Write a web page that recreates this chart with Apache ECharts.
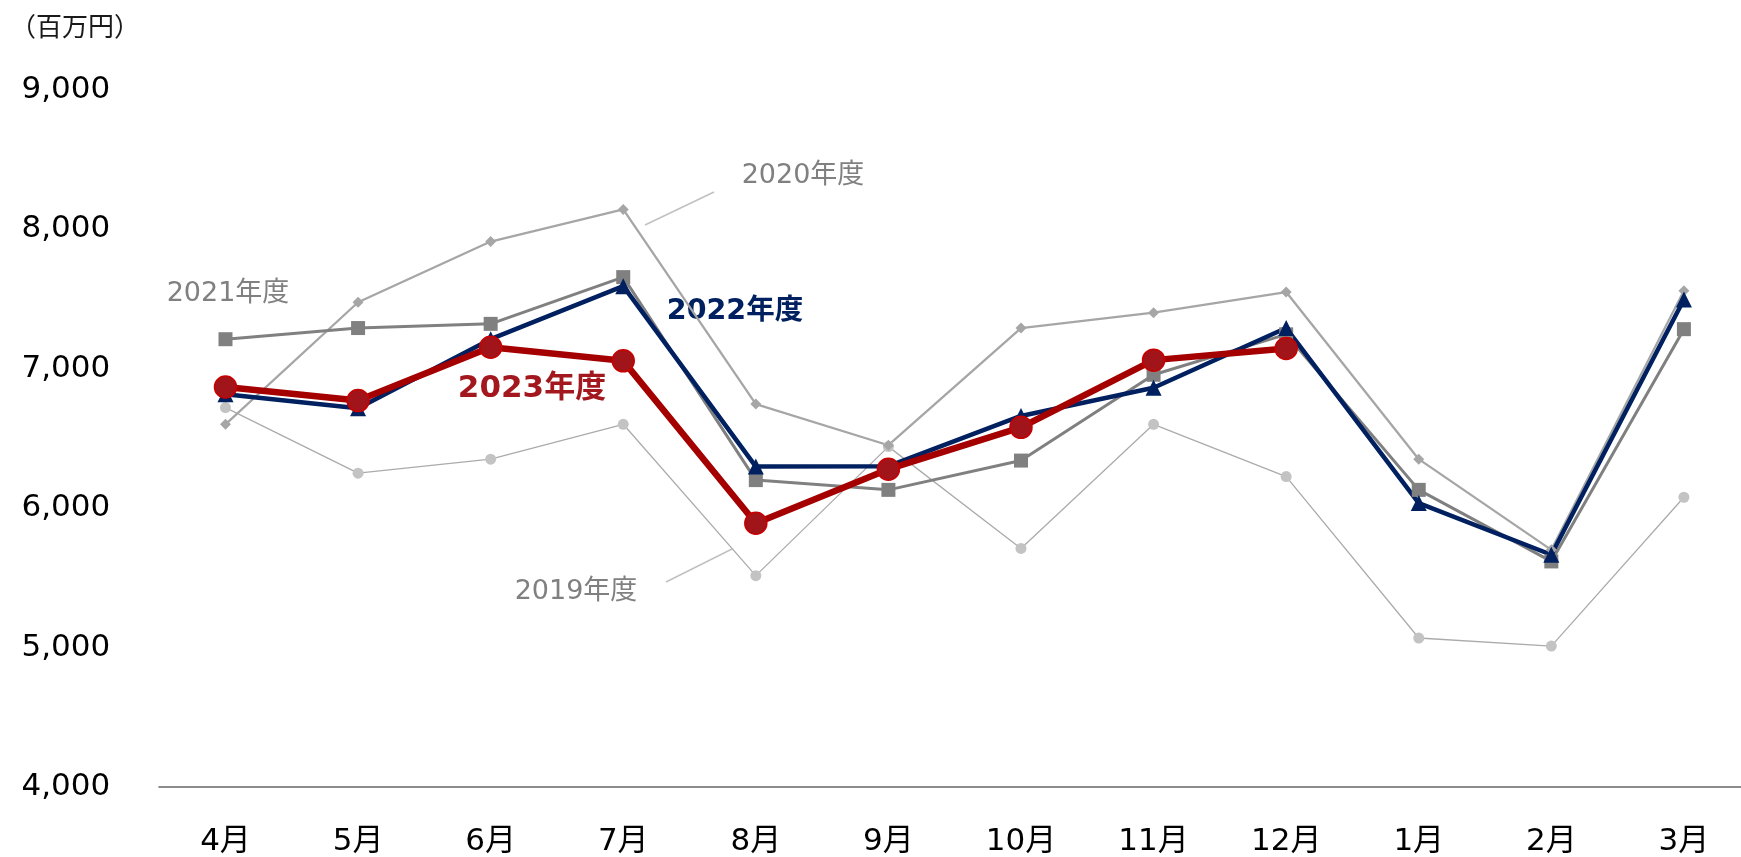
<!DOCTYPE html>
<html>
<head>
<meta charset="utf-8">
<script src="https://cdn.jsdelivr.net/npm/echarts@6/dist/echarts.min.js"></script>
<style>
html,body{margin:0;padding:0;background:#fff;overflow:hidden;width:1741px;height:857px;}
#chart{width:1780px;height:857px;}
</style>
</head>
<body>
<div id="chart"></div>
<script>
// ---- data ----
const months = ['4月','5月','6月','7月','8月','9月','10月','11月','12月','1月','2月','3月'];
const fy2019 = [6720, 6250, 6350, 6600, 5515, 6440, 5710, 6600, 6225, 5068, 5010, 6077];
const fy2020 = [6600, 7475, 7910, 8140, 6745, 6450, 7290, 7400, 7548, 6350, 5700, 7558];
const fy2021 = [7210, 7290, 7320, 7655, 6200, 6130, 6340, 6955, 7245, 6130, 5617, 7282];
const fy2022 = [6815, 6715, 7210, 7590, 6297, 6300, 6660, 6862, 7290, 6035, 5665, 7495];
const fy2023 = [6867, 6770, 7152, 7055, 5891, 6278, 6578, 7060, 7143, null, null, null];
const yMin = 4000, yMax = 9000, yStep = 1000;
const unitLabel = '（百万円）';
const seriesNames = ['2019年度','2020年度','2021年度','2022年度','2023年度'];

const latin = "'DejaVu Sans', 'Noto Sans CJK JP', sans-serif";
const cjk = "'Noto Sans CJK JP', 'DejaVu Sans', sans-serif";

const chart = echarts.init(document.getElementById('chart'), null, {renderer:'canvas'});
chart.setOption({
  animation: false,
  backgroundColor: '#ffffff',
  grid: { left: 159.2, top: 89.5, width: 1591, height: 698.2, containLabel: false },
  xAxis: {
    type: 'category',
    data: months,
    boundaryGap: true,
    axisLine: { show: true, lineStyle: { color: '#8c8c8c', width: 2 } },
    axisTick: { show: false },
    axisLabel: { fontSize: 31, color: '#000', fontFamily: latin, margin: 39 },
    splitLine: { show: false }
  },
  yAxis: {
    type: 'value',
    min: yMin, max: yMax, interval: yStep,
    axisLine: { show: false },
    axisTick: { show: false },
    splitLine: { show: false },
    axisLabel: {
      fontSize: 31, color: '#000', fontFamily: latin, margin: 49,
      padding: [0, 0, 9, 0],
      formatter: v => v.toLocaleString('en-US')
    }
  },
  series: [
    { name: seriesNames[0], type: 'line', data: fy2019, symbol: 'circle', symbolSize: 11,
      lineStyle: { color: '#ababab', width: 1.3 }, itemStyle: { color: '#c3c3c3' } },
    { name: seriesNames[1], type: 'line', data: fy2020, symbol: 'diamond', symbolSize: 11,
      lineStyle: { color: '#a6a6a6', width: 2.3 }, itemStyle: { color: '#a6a6a6' } },
    { name: seriesNames[2], type: 'line', data: fy2021, symbol: 'rect', symbolSize: 14,
      lineStyle: { color: '#808080', width: 3 }, itemStyle: { color: '#808080' } },
    { name: seriesNames[3], type: 'line', data: fy2022, symbol: 'triangle', symbolSize: 16,
      lineStyle: { color: '#002060', width: 4.5 }, itemStyle: { color: '#002060' } },
    { name: seriesNames[4], type: 'line', data: fy2023, symbol: 'circle', symbolSize: 22,
      lineStyle: { color: '#a50000', width: 6.5 },
      itemStyle: { color: '#a0141a', borderColor: '#c80000', borderWidth: 1.5 } }
  ],
  graphic: [
    { type: 'text', x: 10, y: 26,
      style: { text: unitLabel, fontSize: 26, fontFamily: cjk, fill: '#1a1a1a', align: 'left', verticalAlign: 'middle' } },
    { type: 'text', x: 803, y: 176,
      style: { text: seriesNames[1], fontSize: 27, fontFamily: latin, fill: '#808080', align: 'center', verticalAlign: 'middle' } },
    { type: 'line', shape: { x1: 645, y1: 225, x2: 714, y2: 192 }, style: { stroke: '#c0c0c0', lineWidth: 1.5 } },
    { type: 'text', x: 228, y: 294,
      style: { text: seriesNames[2], fontSize: 27, fontFamily: latin, fill: '#808080', align: 'center', verticalAlign: 'middle' } },
    { type: 'text', x: 735, y: 312,
      style: { text: seriesNames[3], fontSize: 28.5, fontWeight: 'bold', fontFamily: latin, fill: '#002060', align: 'center', verticalAlign: 'middle' } },
    { type: 'text', x: 532, y: 389,
      style: { text: seriesNames[4], fontSize: 31, fontWeight: 'bold', fontFamily: latin, fill: '#a3181e', align: 'center', verticalAlign: 'middle' } },
    { type: 'text', x: 576, y: 592,
      style: { text: seriesNames[0], fontSize: 27, fontFamily: latin, fill: '#808080', align: 'center', verticalAlign: 'middle' } },
    { type: 'line', shape: { x1: 666, y1: 582, x2: 732, y2: 549 }, style: { stroke: '#c0c0c0', lineWidth: 1.5 } }
  ]
});
</script>
</body>
</html>
